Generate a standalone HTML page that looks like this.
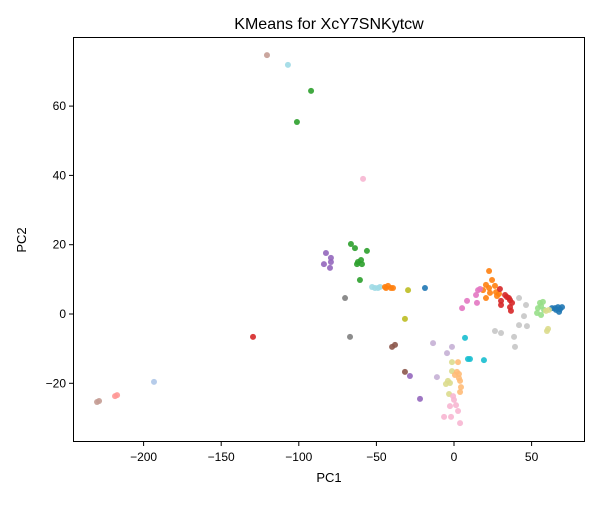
<!DOCTYPE html>
<html><head><meta charset="utf-8"><style>
body{margin:0;background:#fff;font-family:"Liberation Sans","DejaVu Sans",sans-serif}
</style></head><body>
<svg id="chart" width="600" height="500" xmlns="http://www.w3.org/2000/svg" font-family="Liberation Sans, DejaVu Sans, sans-serif">
<rect width="600" height="500" fill="#fff"/>
<text x="329" y="29" text-anchor="middle" font-size="16">KMeans for XcY7SNKytcw</text>
<g id="points"></g>
<rect x="73.5" y="37.5" width="511" height="404" fill="none" stroke="#000" stroke-width="1"/>
<g id="xticks"></g>
<g id="yticks"></g>
<text x="329" y="482" text-anchor="middle" font-size="13">PC1</text>
<text x="0" y="0" transform="translate(26,240) rotate(-90)" text-anchor="middle" font-size="13">PC2</text>
</svg>
<script>
const xTicks=[-200,-150,-100,-50,0,50];
const yTicks=[-20,0,20,40,60];
const colors=["#1f77b4","#ff7f0e","#2ca02c","#d62728","#9467bd","#8c564b","#e377c2","#7f7f7f","#bcbd22","#17becf","#aec7e8","#ffbb78","#98df8a","#ff9896","#c5b0d5","#c49c94","#f7b6d2","#c7c7c7","#dbdb8d","#9edae5"];
const xs=[-82.5,-79.3,-79.3,-83.8,-79.9,-28.4,-21.9,
-66.4,-63.8,-56.1,-61.9,-59.9,-62.5,-59.3,-60.6,-92.1,-101.2,
-70.2,-67,
-52.8,-50.9,-49,-47.7,-107,
-44.5,-42.5,-40.6,-39.3,-43.8,22.6,24.5,20.6,22.6,26.4,18.7,23.2,27.1,29,20.6,27.7,
-29.6,-31.6,
-18.7,65.1,67,69.6,68.3,67.7,65.7,63.1,
29.6,32.9,35.4,36.1,37.4,30.3,30.3,36.1,36.7,34.1,-129.5,
15.5,14.2,8.4,5.2,14.8,16.8,
41.9,46.4,45.1,41.9,47,26.4,30.3,38.7,39.3,
55.4,57.3,54.1,53.5,56.1,58,56.1,
59.3,61.2,59.9,60.6,-1.3,-1.3,-3.9,-5.2,-2.6,-3.2,
7.1,9,10.3,19.3,
-13.5,-1.3,-4.5,-11,
2.6,1.9,3.2,0.6,3.2,3.9,4.5,3.9,
-0.6,0,-2.6,1.3,2.6,-6.4,-1.9,3.9,-58.6,
-39.9,-38,-31.6,
-120.5,-230,-228.7,
-218.4,-217.1,-193.3];
const ys=[17.6,16.2,15,14.4,13.3,-17.9,-24.5,
20.2,19,18.2,15,15.6,14.4,14.4,9.8,64.4,55.4,
4.6,-6.6,
7.8,7.5,7.5,7.8,71.9,
7.8,8.1,7.5,7.5,7.5,12.4,9.8,8.4,7.5,8.1,6.9,6.1,6.3,5.8,4.6,5.2,
6.9,-1.4,
7.5,1.7,2,2,1.4,0.6,1.2,1.7,
7.2,5.5,4.6,4,3.2,3.8,2.6,2,0.9,4.9,-6.6,
6.9,5.5,3.8,1.7,3.2,7.2,
4.6,2.6,-0.6,-3.2,-3.5,-4.9,-5.5,-6.6,-9.5,
3.2,3.5,1.7,0.3,-0.3,1.2,2.3,
0.9,1.2,-4.9,-4.3,-13.9,-16.5,-19.3,-20.2,-19.9,-23.1,
-6.9,-13,-13,-13.3,
-8.4,-9.5,-11.3,-18.2,
-13.9,-16.7,-17.3,-17.6,-18.5,-19.3,-21.1,-22.5,
-23.7,-24.8,-26.6,-26.3,-28,-29.7,-29.7,-31.5,39,
-9.5,-8.9,-16.7,
74.7,-25.4,-25.1,
-23.7,-23.4,-19.6];
const clusters=[4,4,4,4,4,4,4,
2,2,2,2,2,2,2,2,2,2,
7,7,
19,19,19,19,19,
1,1,1,1,1,1,1,1,1,1,1,1,1,1,1,1,
8,8,
0,0,0,0,0,0,0,0,
3,3,3,3,3,3,3,3,3,3,3,
6,6,6,6,6,6,
17,17,17,17,17,17,17,17,17,
12,12,12,12,12,12,12,
18,18,18,18,18,18,18,18,18,18,
9,9,9,9,
14,14,14,14,
11,11,11,11,11,11,11,11,
16,16,16,16,16,16,16,16,16,
5,5,5,
15,15,15,
13,13,10];
const sx=v=>454+v*1.552;
const sy=v=>314-v*3.465;
const NS="http://www.w3.org/2000/svg";
const pg=document.getElementById('points');
for(let i=0;i<xs.length;i++){
  const c=document.createElementNS(NS,'circle');
  c.setAttribute('cx',sx(xs[i]));c.setAttribute('cy',sy(ys[i]));c.setAttribute('r',3);
  c.setAttribute('fill',colors[clusters[i]]);c.setAttribute('fill-opacity',0.9);
  
  
  pg.appendChild(c);
}
const xg=document.getElementById('xticks');
xTicks.forEach(t=>{
  const x=sx(t);
  const l=document.createElementNS(NS,'line');
  l.setAttribute('x1',x);l.setAttribute('x2',x);l.setAttribute('y1',442);l.setAttribute('y2',446);l.setAttribute('stroke','#000');
  
  
  xg.appendChild(l);
  const tx=document.createElementNS(NS,'text');
  tx.setAttribute('x',x);tx.setAttribute('y',461);tx.setAttribute('text-anchor','middle');tx.setAttribute('font-size','12');
  tx.textContent=t<0?'\u2212'+(-t):t;
  
  
  xg.appendChild(tx);
});
const yg=document.getElementById('yticks');
yTicks.forEach(t=>{
  const y=sy(t);
  const l=document.createElementNS(NS,'line');
  l.setAttribute('x1',69);l.setAttribute('x2',73);l.setAttribute('y1',y);l.setAttribute('y2',y);l.setAttribute('stroke','#000');
  
  
  yg.appendChild(l);
  const tx=document.createElementNS(NS,'text');
  tx.setAttribute('x',66);tx.setAttribute('y',y+4);tx.setAttribute('text-anchor','end');tx.setAttribute('font-size','12');
  tx.textContent=t<0?'\u2212'+(-t):t;
  
  
  yg.appendChild(tx);
});
</script>
</body></html>
